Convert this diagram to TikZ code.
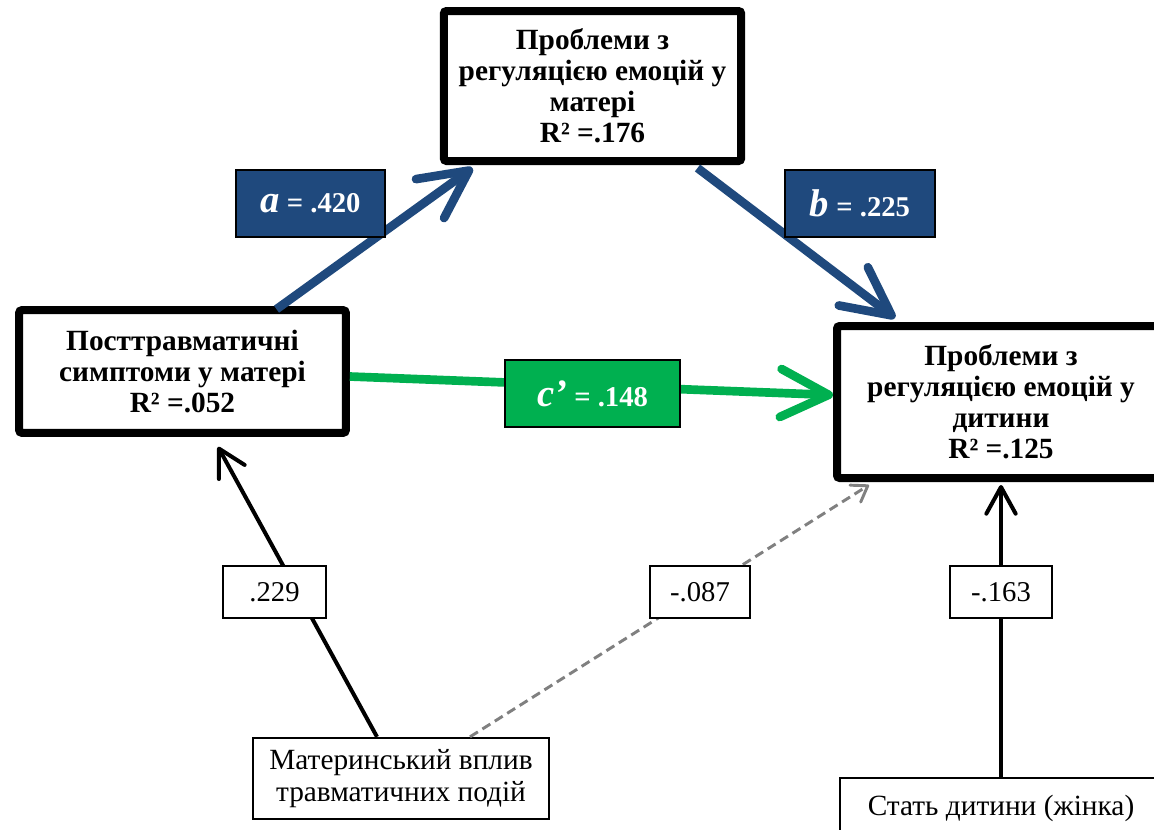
\documentclass[tikz,border=0pt]{standalone}
\usepackage{fontspec}
\setmainfont{Liberation Serif}
\usetikzlibrary{arrows.meta,calc}

\definecolor{pathblue}{RGB}{31,73,125}
\definecolor{pathgreen}{RGB}{0,176,80}
\definecolor{covgray}{RGB}{128,128,128}

\tikzset{every picture/.style={line width=0.75pt}}
\tikzset{
  varbox/.style={draw, line width=6pt, rounded corners=2pt, fill=white, align=center, inner sep=0pt,
    font=\bfseries\fontsize{22}{23.3}\selectfont},
  covbox/.style={draw, line width=1.5pt, fill=white, align=center, inner sep=0pt,
    font=\fontsize{22}{24}\selectfont},
  coefbox/.style={draw, line width=1.5pt, fill=white, inner sep=0pt, minimum height=39pt,
    font=\fontsize{21.5}{24}\selectfont},
  pathbox/.style={draw, line width=1.5pt, text=white, inner sep=0pt, minimum height=50pt,
    font=\bfseries\fontsize{21.5}{24}\selectfont},
  patharrow/.style={line width=6.5pt, -{Straight Barb[length=36pt,width=36pt,round]}},
  covarrow/.style={line width=3pt, -{Straight Barb[length=20pt,width=22pt,round]}},
}
\newcommand{\coefname}[1]{{\fontsize{29}{24}\selectfont\itshape #1}}

\begin{document}
\begin{tikzpicture}[x=0.75pt,y=0.75pt,yscale=-1,xscale=1]
        \useasboundingbox (0,0) rectangle (1154,829);
        \clip (0,0) rectangle (1154,829);

        %Shape: Rectangle [mother emotion regulation]
        \node (mom) at (592.5,86) [varbox, minimum width=223pt, minimum height=112.5pt]
            {Проблеми з\\регуляцією емоцій у\\матері\\R² =.176};
        %Shape: Rectangle [posttraumatic symptoms]
        \node (ptsd) at (182.5,371.5) [varbox, minimum width=245pt, minimum height=92pt]
            {Посттравматичні\\симптоми у матері\\R² =.052};
        %Shape: Rectangle [child emotion regulation]
        \node (child) at (1001,402) [varbox, minimum width=246pt, minimum height=114pt]
            {Проблеми з\\регуляцією емоцій у\\дитини\\R² =.125};
        %Shape: Rectangle [covariates]
        \node (trauma) at (401,778.5) [covbox, minimum width=222pt, minimum height=61pt]
            {Материнський вплив\\травматичних подій};
        \node (sex) at (1001,808) [covbox, minimum width=241.5pt, minimum height=45pt]
            {Стать дитини (жінка)};

        %Straight Lines [paths a, b, c']
        \draw [patharrow, pathblue] ($(ptsd.north)+(94,3)$) -- ($(mom.south)+(-120,3)$);
        \draw [patharrow, pathblue] ($(mom.south)+(105,3)$) -- ($(child.north)+(-106,-4)$);
        \draw [patharrow, pathgreen] ($(ptsd.east)+(0,5)$) -- ($(child.west)+(0,-7)$);
        %Straight Lines [covariates]
        \draw [covarrow] ($(trauma.north)+(-24,0)$) -- ($(ptsd.south)+(35.5,10)$);
        \draw [covarrow] (sex.north) -- ($(sex.north |- child.south)+(0,3)$);
        \draw [covgray, line width=2.2pt, dash pattern=on 7pt off 4pt,
               -{Straight Barb[length=11pt,width=15pt,round]}]
            ($(trauma.north)+(69,0)$) -- ($(child.south west)+(36,3)$);

        % Text Node
        \node (alabel) at (310.5,203.5) [pathbox, fill=pathblue, minimum width=112pt] {\coefname{a} = .420};
        % Text Node
        \node (blabel) at (860,203.5) [pathbox, fill=pathblue, minimum width=112pt] {\coefname{b} = .225};
        % Text Node
        \node (clabel) at (592.5,393.5) [pathbox, fill=pathgreen, minimum width=131pt] {\coefname{c’} = .148};
        % Text Node
        \node (trlabel) at (274.5,592) [coefbox, minimum width=77pt] {.229};
        \node (covlabel) at (700,592) [coefbox, minimum width=75pt] {-.087};
        \node (sexlabel) at (1001,592) [coefbox, minimum width=76pt] {-.163};

\end{tikzpicture}
\end{document}
